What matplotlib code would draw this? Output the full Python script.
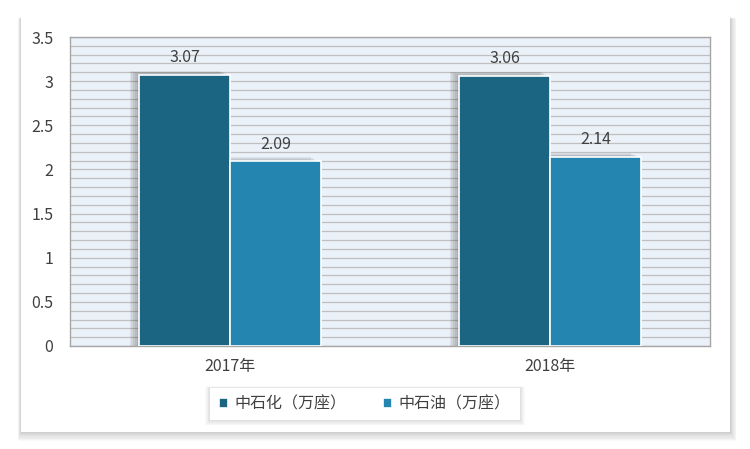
import matplotlib.pyplot as plt
from matplotlib.patches import Rectangle
import numpy as np

plt.rcParams['font.family'] = ['Noto Sans CJK SC', 'DejaVu Sans']

categories = ['2017年', '2018年']
series_names = ['中石化（万座）', '中石油（万座）']
sinopec = [3.07, 3.06]
petrochina = [2.09, 2.14]
colors = ['#1b6583', '#2385b0']

fig = plt.figure(figsize=(7.5, 4.49), dpi=100)

# outer frame with soft shadow
bg = fig.add_axes([0, 0, 1, 1], zorder=-10)
bg.set_xlim(0, 750)
bg.set_ylim(449, 0)
bg.axis('off')
for k in range(8, 0, -1):
    bg.add_patch(Rectangle((21 - k * 0.4, 17 + k * 0.2), 709 + k * 1.2, 415 + k * 0.9,
                           facecolor='black', alpha=0.025, lw=0))
bg.add_patch(Rectangle((21, 17), 709, 415, facecolor='white', lw=0))
# legend shadow
for k in range(6, 0, -1):
    bg.add_patch(Rectangle((210 - k * 0.8, 388 - k * 0.3), 310 + k * 1.6, 32 + k * 1.2,
                           facecolor='black', alpha=0.02, lw=0))
bg.add_patch(Rectangle((210, 388), 310, 32, facecolor='white', lw=0))

ax = fig.add_axes([70 / 750, 1 - 346 / 449, 640 / 750, 309 / 449])
ax.set_facecolor('#eaf1f8')
x = np.arange(len(categories))
w = 0.284

# bar shadows
for vals, off in [(sinopec, -w / 2), (petrochina, w / 2)]:
    for xi, v in zip(x, vals):
        for k in range(1, 6):
            d = k * 0.006
            ax.add_patch(Rectangle((xi + off - w / 2 - d, 0), w, v + d * 1.6,
                                   facecolor='black', alpha=0.06, lw=0, zorder=2))

b1 = ax.bar(x - w / 2, sinopec, w, color=colors[0], edgecolor='white', lw=1.2,
            label=series_names[0], zorder=3)
b2 = ax.bar(x + w / 2, petrochina, w, color=colors[1], edgecolor='white', lw=1.2,
            label=series_names[1], zorder=3)

for bars, vals in [(b1, sinopec), (b2, petrochina)]:
    for r, v in zip(bars, vals):
        ax.text(r.get_x() + r.get_width() / 2, v + 0.1, f'{v:.2f}', ha='center',
                va='bottom', fontsize=11.5, color='#404040', zorder=4)

ax.set_xlim(-0.5, 1.5)
ax.set_ylim(0, 3.5)
ax.set_yticks(np.arange(0, 3.51, 0.5))
ax.set_yticklabels(['0', '0.5', '1', '1.5', '2', '2.5', '3', '3.5'])
ax.set_yticks(np.arange(0, 3.51, 0.1), minor=True)
ax.grid(axis='y', which='both', color='#bfbfbf', lw=0.9, zorder=0)
ax.set_axisbelow(True)
ax.set_xticks(x)
ax.set_xticklabels(categories)
ax.tick_params(axis='both', which='both', length=0, labelsize=11.5,
               colors='#404040', pad=12)
ax.tick_params(axis='x', pad=9)
for s in ax.spines.values():
    s.set_color('#a6a6a6')
    s.set_linewidth(1)

leg = fig.legend(handles=[b1, b2], labels=series_names, loc='center',
                 bbox_to_anchor=(365 / 750, 1 - 404 / 449), ncol=2,
                 frameon=False, fontsize=11.5,
                 handlelength=0.55, handleheight=0.55, handletextpad=0.4,
                 columnspacing=2.3, borderpad=0.55, borderaxespad=0)
for t in leg.get_texts():
    t.set_color('#404040')

fig.savefig('out.png', dpi=100)
